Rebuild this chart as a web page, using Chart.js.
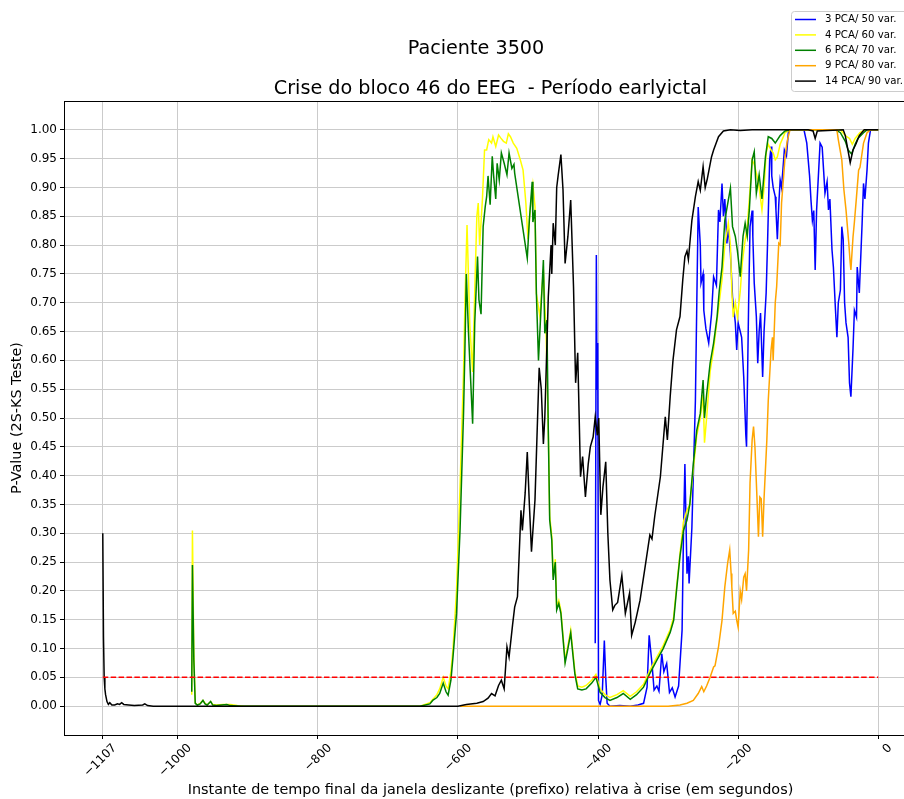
<!DOCTYPE html>
<html>
<head>
<meta charset="utf-8">
<script src="https://cdn.jsdelivr.net/npm/chart.js@4.4.1/dist/chart.umd.min.js"></script>
<style>
html, body { margin: 0; padding: 0; overflow: hidden; background: #fff; }
canvas { display: block; }
</style>
</head>
<body>
<canvas id="grafico" width="920" height="799"></canvas>
<script>
// textos
const tituloFigura = "Paciente 3500";
const tituloEixos = "Crise do bloco 46 do EEG  - Período earlyictal";
const rotuloX = "Instante de tempo final da janela deslizante (prefixo) relativa à crise (em segundos)";
const rotuloY = "P-Value (2S-KS Teste)";

const nomesSeries = ["3 PCA/ 50 var.", "4 PCA/ 60 var.", "6 PCA/ 70 var.", "9 PCA/ 80 var.", "14 PCA/ 90 var."];
const coresSeries = ["#0000ff", "#ffff00", "#008000", "#ffa500", "#000000"];

const xTicks = [-1107, -1000, -800, -600, -400, -200, 0];
const yTicks = [0, 0.05, 0.1, 0.15, 0.2, 0.25, 0.3, 0.35, 0.4, 0.45, 0.5, 0.55, 0.6, 0.65, 0.7, 0.75, 0.8, 0.85, 0.9, 0.95, 1.0];

const limiarX = [-1107, 0];
const limiarY = 0.05;

// 3 PCA / 50 var.
const azulX = [-404, -402.4, -401.4, -400.4, -399.3, -397, -394, -391, -389, -387,
  -383, -369, -354, -343, -335, -330, -327, -323, -320, -316,
  -313, -309, -306, -302, -298, -294, -290, -285, -280, -278,
  -276, -273, -271, -270, -266, -261, -259, -257, -254, -253,
  -250, -249, -246, -242, -238, -235, -231, -228, -226, -223,
  -221, -219, -216, -214, -211, -208, -204, -202, -200, -197,
  -195, -192, -189, -188, -185, -183, -180, -179, -177, -174,
  -172, -170, -168, -165, -163, -160, -158, -155, -153, -152,
  -150, -147, -146, -144, -142, -140, -138, -134, -131, -128,
  -106, -102, -98, -96, -94, -92, -90, -88, -85, -83,
  -80, -78, -76, -73, -71, -69, -66, -64, -61, -59,
  -57, -54, -52, -50, -48, -46, -43, -41, -39, -36,
  -34, -31, -30, -27, -23, -21, -19, -16, -14, -11,
  0];
const azulY = [0.109, 0.783, 0.55, 0.63, 0.01, 0.003, 0.02, 0.114, 0.05, 0.005,
  0, 0.001, 0, 0.002, 0.005, 0.033, 0.123, 0.074, 0.028, 0.035,
  0.026, 0.091, 0.06, 0.074, 0.024, 0.032, 0.016, 0.035, 0.132, 0.30,
  0.42, 0.23, 0.26, 0.213, 0.31, 0.53, 0.70, 0.866, 0.80, 0.734,
  0.75, 0.687, 0.655, 0.63, 0.68, 0.745, 0.73, 0.861, 0.84, 0.907,
  0.85, 0.88, 0.803, 0.83, 0.786, 0.71, 0.665, 0.618, 0.665, 0.65,
  0.64, 0.571, 0.47, 0.45, 0.70, 0.832, 0.86, 0.815, 0.734, 0.676,
  0.595, 0.65, 0.682, 0.571, 0.65, 0.717, 0.803, 0.948, 0.971, 0.92,
  0.90, 0.884, 0.861, 0.81, 0.87, 0.913, 0.90, 0.965, 0.955, 1.0,
  1.0, 0.977, 0.92, 0.878, 0.843, 0.86, 0.757, 0.86, 0.93, 0.977,
  0.97, 0.93, 0.89, 0.91, 0.861, 0.88, 0.792, 0.762, 0.687, 0.64,
  0.70, 0.722, 0.832, 0.81, 0.70, 0.665, 0.64, 0.561, 0.537, 0.62,
  0.687, 0.675, 0.762, 0.717, 0.838, 0.907, 0.88, 0.93, 0.977, 1.0,
  1.0];

// 4 PCA / 60 var.
const amareloX = [-980, -979, -977, -975, -972, -968, -964, -961, -958, -953,
  -950, -945, -935, -925, -915, -905, -654, -640, -630, -626,
  -621, -617, -614, -610, -607, -602, -597, -592, -590, -587,
  -583, -579, -576, -573, -571, -569, -565, -562, -559, -556,
  -552, -550, -546, -542, -539, -535, -531, -528, -525, -521,
  -516, -511, -507, -503, -500, -497, -493, -490, -488, -483,
  -478, -474, -471, -469, -466, -464, -461, -459, -456, -453,
  -447, -443, -439, -433, -429, -423, -417, -409, -403, -397,
  -390, -383, -373, -364, -354, -345, -335, -326, -316, -307,
  -297, -292, -288, -283, -278, -273, -269, -264, -259, -254,
  -250, -248, -245, -240, -235, -230, -227, -223, -219, -214,
  -211, -209, -207, -204, -201, -197, -194, -191, -187, -184,
  -180, -177, -173, -170, -166, -163, -160, -157, -153, -150,
  -147, -144, -140, -133, -126, -54, -47, -41, -37, -33,
  -26, -19, 0];
const amareloY = [0.02, 0.305, 0.09, 0.006, 0.002, 0.005, 0.01, 0.005, 0.002, 0.008,
  0.003, 0.002, 0.003, 0.003, 0.001, 0, 0, 0.006, 0.02, 0.03,
  0.05, 0.035, 0.03, 0.06, 0.10, 0.20, 0.38, 0.58, 0.70, 0.835,
  0.66, 0.58, 0.72, 0.85, 0.873, 0.80, 0.88, 0.965, 0.965, 0.983,
  0.977, 0.988, 0.971, 0.991, 0.986, 0.98, 0.977, 0.993, 0.988, 0.977,
  0.968, 0.948, 0.93, 0.873, 0.81, 0.86, 0.905, 0.867, 0.716, 0.676,
  0.757, 0.64, 0.48, 0.33, 0.295, 0.225, 0.255, 0.172, 0.183, 0.166,
  0.08, 0.105, 0.132, 0.06, 0.035, 0.033, 0.036, 0.045, 0.055, 0.03,
  0.02, 0.015, 0.02, 0.027, 0.017, 0.025, 0.038, 0.062, 0.085, 0.105,
  0.133, 0.155, 0.205, 0.265, 0.32, 0.34, 0.35, 0.41, 0.47, 0.50,
  0.54, 0.457, 0.50, 0.58, 0.62, 0.67, 0.70, 0.74, 0.80, 0.838,
  0.80, 0.72, 0.675, 0.70, 0.675, 0.72, 0.77, 0.80, 0.832, 0.88,
  0.948, 0.94, 0.92, 0.90, 0.861, 0.90, 0.96, 0.975, 0.965, 0.96,
  0.948, 0.953, 0.975, 0.995, 1.0, 1.0, 0.99, 0.985, 0.975, 0.985,
  0.995, 1.0, 1.0];

// 6 PCA / 70 var.
const verdeX = [-980, -979, -977, -975, -972, -968, -964, -961, -958, -953,
  -950, -945, -930, -925, -910, -654, -640, -636, -630, -626,
  -621, -617, -614, -610, -607, -602, -597, -592, -590, -588,
  -585, -582, -579, -576, -572, -570, -567, -564, -561, -559,
  -557, -554, -551, -549, -546, -544, -541, -538, -534, -530,
  -527, -523, -520, -519, -501, -498, -494, -493, -490, -488,
  -485, -481, -478, -476, -473, -471, -469, -466, -464, -461,
  -459, -456, -453, -447, -443, -439, -433, -429, -423, -417,
  -409, -403, -397, -390, -383, -373, -364, -354, -345, -335,
  -326, -316, -307, -297, -292, -288, -283, -278, -273, -269,
  -264, -259, -254, -250, -248, -245, -240, -235, -230, -227,
  -223, -219, -214, -211, -208, -204, -201, -197, -193, -190,
  -187, -184, -180, -177, -174, -170, -166, -161, -157, -152,
  -147, -140, -133, -126, -61, -54, -47, -43, -38, -33,
  -29, -21, -16, 0];
const verdeY = [0.025, 0.245, 0.08, 0.005, 0.002, 0.004, 0.01, 0.004, 0.002, 0.008,
  0.002, 0.001, 0.003, 0.001, 0, 0, 0.004, 0.01, 0.015, 0.022,
  0.04, 0.025, 0.019, 0.045, 0.086, 0.161, 0.305, 0.508, 0.62, 0.75,
  0.65, 0.57, 0.49, 0.665, 0.78, 0.705, 0.68, 0.832, 0.867, 0.884,
  0.92, 0.87, 0.954, 0.92, 0.88, 0.942, 0.913, 0.96, 0.942, 0.922,
  0.96, 0.933, 0.94, 0.925, 0.777, 0.844, 0.91, 0.84, 0.861, 0.716,
  0.60, 0.70, 0.774, 0.647, 0.67, 0.48, 0.323, 0.288, 0.219, 0.25,
  0.167, 0.178, 0.161, 0.075, 0.10, 0.127, 0.055, 0.03, 0.028, 0.03,
  0.04, 0.05, 0.024, 0.015, 0.01, 0.015, 0.022, 0.012, 0.02, 0.033,
  0.057, 0.08, 0.10, 0.128, 0.149, 0.20, 0.26, 0.305, 0.323, 0.35,
  0.42, 0.479, 0.508, 0.566, 0.50, 0.54, 0.595, 0.63, 0.676, 0.72,
  0.762, 0.843, 0.878, 0.899, 0.832, 0.815, 0.79, 0.745, 0.815, 0.838,
  0.815, 0.861, 0.948, 0.962, 0.89, 0.922, 0.88, 0.953, 0.988, 0.985,
  0.977, 0.99, 0.998, 1.0, 1.0, 0.995, 0.98, 0.965, 0.958, 0.975,
  0.985, 0.995, 1.0, 1.0];

// 9 PCA / 80 var.
const laranjaX = [-597, -300, -283, -273, -264, -257, -252, -249, -245, -240,
  -235, -233, -228, -223, -219, -215, -212, -210, -209, -207,
  -204, -202, -200, -197, -195, -192, -190, -188, -185, -183,
  -180, -178, -176, -173, -171, -169, -167, -165, -163, -159,
  -157, -153, -151, -150, -147, -145, -142, -140, -138, -135,
  -133, -130, -126, -59, -57, -52, -49, -46, -42, -40,
  -39, -36, -34, -31, -28, -26, -21, -16, -11, 0];
const laranjaY = [0, 0, 0.002, 0.005, 0.01, 0.022, 0.034, 0.025, 0.035, 0.05,
  0.068, 0.07, 0.103, 0.149, 0.207, 0.248, 0.271, 0.23, 0.207, 0.161,
  0.165, 0.149, 0.137, 0.20, 0.185, 0.224, 0.23, 0.20, 0.271, 0.387,
  0.462, 0.485, 0.45, 0.358, 0.294, 0.363, 0.36, 0.294, 0.36, 0.462,
  0.53, 0.618, 0.64, 0.60, 0.70, 0.728, 0.803, 0.80, 0.873, 0.92,
  0.953, 0.98, 1.0, 1.0, 0.983, 0.948, 0.896, 0.861, 0.803, 0.769,
  0.757, 0.814, 0.84, 0.884, 0.93, 0.935, 0.977, 0.995, 1.0, 1.0];

// 14 PCA / 90 var.
const pretoX = [-1107, -1106, -1105, -1104, -1103, -1101, -1099, -1097, -1094, -1090,
  -1086, -1083, -1080, -1077, -1070, -1062, -1050, -1047, -1043, -1035,
  -600, -588, -573, -564, -557, -552, -547, -542, -538, -534,
  -530, -527, -522, -519, -515, -510, -508, -504, -501, -498,
  -495, -490, -485, -484, -481, -478, -476, -471, -467, -466,
  -464, -461, -459, -457, -453, -450, -447, -443, -439, -435,
  -432, -429, -425, -422, -418, -414, -411, -407, -404, -401,
  -399, -396, -393, -389, -386, -383, -379, -376, -372, -366,
  -361, -355, -352, -347, -340, -333, -326, -323, -319, -311,
  -304, -301, -297, -293, -288, -283, -279, -276, -273, -271,
  -266, -261, -257, -254, -250, -247, -244, -238, -235, -228,
  -221, -211, -197, -180, -100, -93, -90, -87, -50, -47,
  -44, -40, -36, -32, -27, -20, 0];
const pretoY = [0.30, 0.12, 0.05, 0.03, 0.02, 0.008, 0.003, 0.006, 0.002, 0.002,
  0.004, 0.003, 0.006, 0.003, 0.002, 0.001, 0.002, 0.004, 0.001, 0,
  0, 0.003, 0.005, 0.008, 0.014, 0.022, 0.018, 0.036, 0.045, 0.03,
  0.103, 0.085, 0.141, 0.172, 0.19, 0.34, 0.305, 0.37, 0.441, 0.35,
  0.268, 0.358, 0.55, 0.587, 0.55, 0.455, 0.50, 0.71, 0.80, 0.75,
  0.838, 0.80, 0.90, 0.92, 0.957, 0.896, 0.768, 0.815, 0.878, 0.728,
  0.561, 0.613, 0.398, 0.433, 0.363, 0.42, 0.45, 0.467, 0.502, 0.47,
  0.50, 0.332, 0.38, 0.424, 0.30, 0.219, 0.167, 0.175, 0.18, 0.227,
  0.161, 0.196, 0.123, 0.145, 0.184, 0.24, 0.297, 0.29, 0.33, 0.398,
  0.502, 0.462, 0.537, 0.60, 0.653, 0.676, 0.74, 0.78, 0.79, 0.775,
  0.843, 0.884, 0.91, 0.895, 0.936, 0.90, 0.915, 0.953, 0.965, 0.988,
  0.998, 1.0, 0.999, 1.0, 1.0, 0.998, 0.985, 0.998, 1.0, 0.99,
  0.97, 0.943, 0.965, 0.975, 0.99, 1.0, 1.0];

const fonte = "'DejaVu Sans', 'Liberation Sans', sans-serif";

function pontos(xs, ys) {
  return xs.map((x, i) => ({ x: x, y: ys[i] }));
}

const seriesX = [azulX, amareloX, verdeX, laranjaX, pretoX];
const seriesY = [azulY, amareloY, verdeY, laranjaY, pretoY];

// ordem de desenho igual ao matplotlib: a ultima serie fica por cima
const datasets = nomesSeries.map((nome, i) => ({
  label: nome,
  data: pontos(seriesX[i], seriesY[i]),
  borderColor: coresSeries[i],
  backgroundColor: coresSeries[i],
  borderWidth: 1.5,
  pointRadius: 0,
  tension: 0,
  fill: false,
  order: 10 - i
}));

datasets.push({
  label: "limiar",
  data: limiarX.map(x => ({ x: x, y: limiarY })),
  borderColor: "#ff0000",
  borderWidth: 1.5,
  borderDash: [5.5, 2.4],
  pointRadius: 0,
  fill: false,
  order: 0
});

const decoracao = {
  id: "decoracao",
  afterDraw(chart) {
    const ctx = chart.ctx;
    const area = chart.chartArea;
    ctx.save();

    // moldura de cima e da direita
    ctx.strokeStyle = "#000";
    ctx.lineWidth = 1;
    ctx.beginPath();
    ctx.moveTo(area.left, Math.round(area.top) + 0.5);
    ctx.lineTo(area.right, Math.round(area.top) + 0.5);
    ctx.moveTo(Math.round(area.right) - 0.5, area.top);
    ctx.lineTo(Math.round(area.right) - 0.5, area.bottom);
    ctx.stroke();

    // titulos
    ctx.fillStyle = "#000";
    ctx.textAlign = "center";
    ctx.textBaseline = "middle";
    ctx.font = "19.2px " + fonte;
    ctx.fillText(tituloFigura, 476, 49);
    ctx.fillText(tituloEixos, (area.left + area.right) / 2, 89);

    // legenda
    const lx = 791.5, ly = 11.5, lw = 116, lh = 80;
    ctx.beginPath();
    ctx.roundRect(lx, ly, lw, lh, 3);
    ctx.fillStyle = "rgba(255,255,255,0.8)";
    ctx.fill();
    ctx.strokeStyle = "#cccccc";
    ctx.stroke();
    ctx.font = "10.2px " + fonte;
    ctx.textAlign = "left";
    nomesSeries.forEach((nome, i) => {
      const y = 19.5 + i * 15.4;
      ctx.strokeStyle = coresSeries[i];
      ctx.lineWidth = 1.5;
      ctx.beginPath();
      ctx.moveTo(795, y);
      ctx.lineTo(816, y);
      ctx.stroke();
      ctx.fillStyle = "#000";
      ctx.fillText(nome, 825, y);
    });
    ctx.restore();
  }
};

const ctx = document.getElementById("grafico").getContext("2d");
const grafico = new Chart(ctx, {
  type: "line",
  data: { datasets: datasets },
  options: {
    responsive: false,
    animation: false,
    devicePixelRatio: 1,
    events: [],
    layout: { padding: { left: 0, top: 101, right: 3, bottom: 0 } },
    plugins: {
      legend: { display: false },
      tooltip: { enabled: false },
      title: { display: false }
    },
    scales: {
      x: {
        type: "linear",
        min: -1162.35,
        max: 55.35,
        afterBuildTicks: s => { s.ticks = xTicks.map(v => ({ value: v })); },
        afterFit: s => { s.height = 64; },
        grid: { color: "#cbcbcb", lineWidth: 1, drawTicks: true, tickLength: 4, tickColor: "#000" },
        border: { display: true, color: "#000", width: 1 },
        ticks: {
          autoSkip: false,
          minRotation: 45,
          maxRotation: 45,
          padding: 2,
          labelOffset: 12,
          color: "#000",
          font: { family: fonte, size: 12 },
          callback: v => (v < 0 ? "\u2212" + Math.abs(v) : String(v))
        },
        title: {
          display: true,
          text: rotuloX,
          color: "#000",
          font: { family: fonte, size: 14.4 },
          padding: { top: 0, bottom: 0 }
        }
      },
      y: {
        min: -0.05,
        max: 1.05,
        afterBuildTicks: s => { s.ticks = yTicks.map(v => ({ value: v })); },
        afterFit: s => { s.width = 64; },
        grid: { color: "#cbcbcb", lineWidth: 1, drawTicks: true, tickLength: 4, tickColor: "#000" },
        border: { display: true, color: "#000", width: 1 },
        ticks: {
          padding: 3,
          color: "#000",
          font: { family: fonte, size: 12 },
          callback: v => v.toFixed(2)
        },
        title: {
          display: true,
          text: rotuloY,
          color: "#000",
          font: { family: fonte, size: 14.4 },
          padding: { top: 9, bottom: 0 }
        }
      }
    }
  },
  plugins: [decoracao]
});
</script>
</body>
</html>
